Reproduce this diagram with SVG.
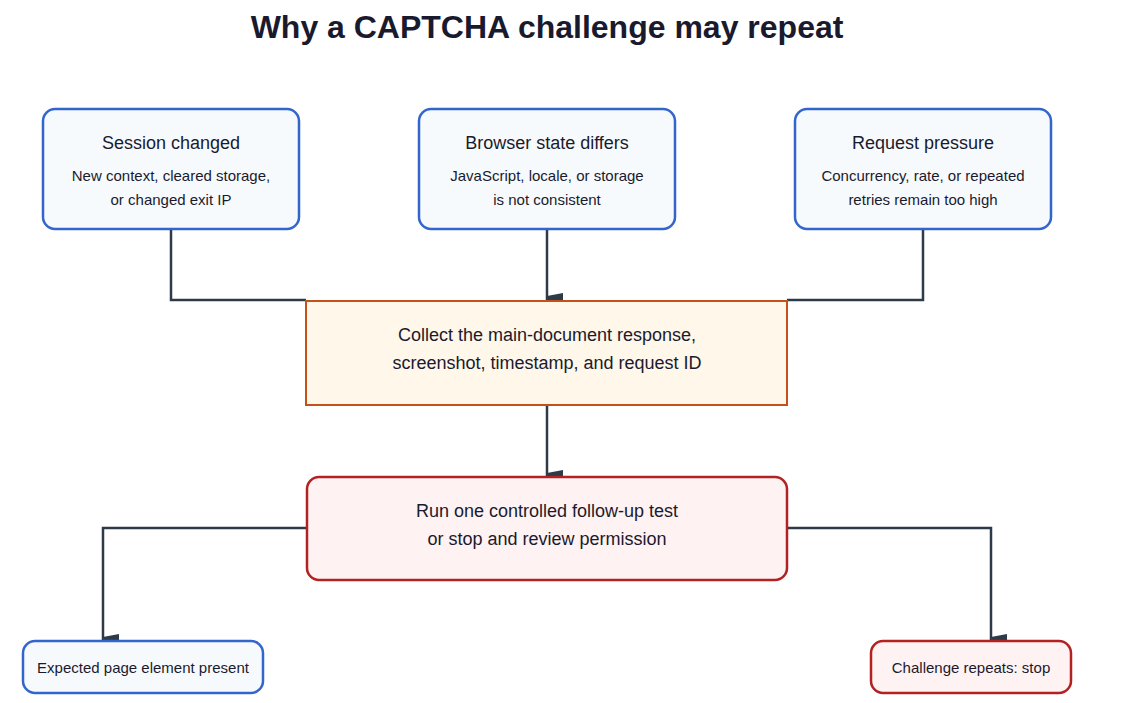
<svg xmlns="http://www.w3.org/2000/svg" width="1136" height="703" viewBox="0 0 1136 703">
<style>
text{font-family:"Liberation Sans",Arial,sans-serif;fill:#1a1a2e;text-anchor:middle}
.t{font-size:18px}.s{font-size:15px}
.blue{fill:#f7fafd;stroke:#3366cc;stroke-width:2.5}
.org{fill:#fff7ea;stroke:#c2521a;stroke-width:2}
.red{fill:#fff2f2;stroke:#b22222;stroke-width:2.5}
.c{fill:none;stroke:#2e3a4a;stroke-width:2.5}
</style>
<defs><marker id="a" viewBox="0 0 14 16" refX="7" refY="16" markerWidth="14" markerHeight="16" markerUnits="userSpaceOnUse" orient="auto-start-reverse"><path d="M0,0 L14,0 L11,16 L3,16 Z" fill="#2e3a4a"/></marker></defs>
<rect width="1136" height="703" fill="#fff"/>
<text x="547" y="38" style="font-size:32px;font-weight:bold">Why a CAPTCHA challenge may repeat</text>
<g id="connectors">
<path class="c" d="M171,229 V300 H306"/>
<path class="c" d="M923,229 V300 H787"/>
<path class="c" d="M547,229 V300" marker-end="url(#a)"/>
<path class="c" d="M547,405 V477" marker-end="url(#a)"/>
<path class="c" d="M307,528 H103 V641" marker-end="url(#a)"/>
<path class="c" d="M787,528 H991 V641" marker-end="url(#a)"/>
</g>
<g id="n1"><rect class="blue" x="43" y="109" width="256" height="120" rx="12"/><text class="t" x="171" y="149">Session changed</text><text class="s" x="171" y="181">New context, cleared storage,</text><text class="s" x="171" y="205">or changed exit IP</text></g>
<g id="n2"><rect class="blue" x="419" y="109" width="256" height="120" rx="12"/><text class="t" x="547" y="149">Browser state differs</text><text class="s" x="547" y="181">JavaScript, locale, or storage</text><text class="s" x="547" y="205">is not consistent</text></g>
<g id="n3"><rect class="blue" x="795" y="109" width="256" height="120" rx="12"/><text class="t" x="923" y="149">Request pressure</text><text class="s" x="923" y="181">Concurrency, rate, or repeated</text><text class="s" x="923" y="205">retries remain too high</text></g>
<g id="n4"><rect class="org" x="306" y="301" width="481" height="104"/><text class="t" x="547" y="341">Collect the main-document response,</text><text class="t" x="547" y="369">screenshot, timestamp, and request ID</text></g>
<g id="n5"><rect class="red" x="307" y="477" width="480" height="103" rx="12"/><text class="t" x="547" y="517">Run one controlled follow-up test</text><text class="t" x="547" y="545">or stop and review permission</text></g>
<g id="n6"><rect class="blue" x="23" y="641" width="240" height="52" rx="12"/><text class="s" x="143" y="673">Expected page element present</text></g>
<g id="n7"><rect class="red" x="871" y="641" width="200" height="52" rx="12"/><text class="s" x="971" y="673">Challenge repeats: stop</text></g>
</svg>
